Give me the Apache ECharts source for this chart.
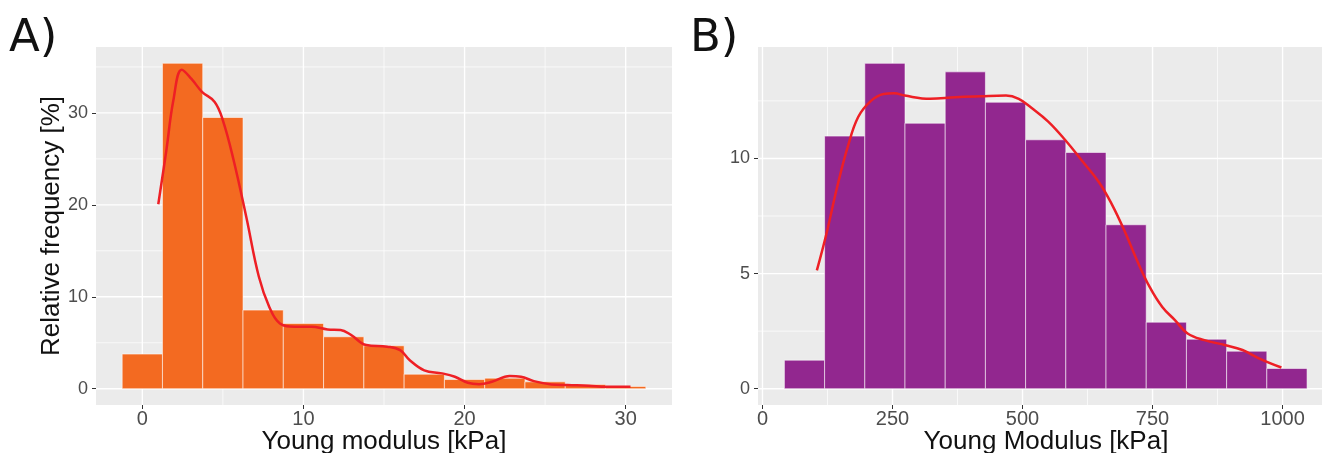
<!DOCTYPE html>
<html><head><meta charset="utf-8">
<script src="https://cdn.jsdelivr.net/npm/echarts@6/dist/echarts.min.js"></script>
<style>html,body{margin:0;padding:0;background:#fff}#c{width:1322px;height:453px}</style>
</head><body><div id="c"></div>
<script>
// ---- Panel A data ----
const binCentersA = [0, 2.5, 5, 7.5, 10, 12.5, 15, 17.5, 20, 22.5, 25, 27.5, 30];
const binWidthA = 2.5;
const freqA = [3.77, 35.4, 29.5, 8.55, 7.1, 5.65, 4.67, 1.58, 1.0, 1.15, 0.75, 0.45, 0.25];
const densityA = [
  [0.99,20.07],[1.49,25.9],[1.93,31.4],[2.45,34.7],[3.05,33.7],[3.7,32.3],[4.49,31.2],[5.0,29.2],
  [5.66,24.9],[6.45,18.7],[7.23,12.2],[7.88,8.9],[8.54,7.1],[9.45,6.74],[10.5,6.74],[11.5,6.45],
  [12.3,6.4],[12.97,5.83],[13.9,4.75],[15.2,4.57],[16.0,4.2],[16.6,3.1],[17.5,2.0],[18.6,1.67],
  [19.4,1.3],[20.2,0.65],[20.9,0.5],[21.7,0.76],[22.8,1.38],[23.5,1.3],[24.3,0.83],[25.4,0.47],
  [26.4,0.4],[27.7,0.33],[28.8,0.22],[30.3,0.22]
];
const xTicksA = [0, 10, 20, 30];
const xMinorA = [5, 15, 25];
const yTicksA = [0, 10, 20, 30];
const yMinorA = [5, 15, 25, 35];

// ---- Panel B data ----
const binCentersB = [80.8, 158.1, 235.4, 312.7, 390, 467.3, 544.6, 621.9, 699.2, 776.5, 853.8, 931.1, 1008.4];
const binWidthB = 77.3;
const freqB = [1.24, 10.97, 14.13, 11.53, 13.76, 12.44, 10.81, 10.26, 7.12, 2.89, 2.15, 1.63, 0.88];
const densityB = [
  [104.6,5.14],[123,6.73],[143.6,8.76],[163.9,10.5],[184,11.8],[208.6,12.5],[232.9,12.8],[253.3,12.83],
  [273.5,12.73],[322.3,12.59],[371,12.66],[419.6,12.7],[468.3,12.73],[492.7,12.59],[517,12.2],
  [549.4,11.6],[582,10.8],[614.4,9.9],[647,8.97],[671.3,8.03],[695.6,6.88],[720,5.58],[744.4,4.42],
  [768.7,3.55],[793,2.98],[817.3,2.4],[849.8,2.11],[890.4,1.89],[922.9,1.68],[955.4,1.31],[997.7,0.92]
];
const xTicksB = [0, 250, 500, 750, 1000];
const xMinorB = [125, 375, 625, 875];
const yTicksB = [0, 5, 10];
const yMinorB = [2.5, 7.5, 12.5];

const FONT = '"Liberation Sans", Arial, sans-serif';
const chart = echarts.init(document.getElementById('c'), null, {renderer: 'canvas'});

function gridLineSeries(idx, vals, dir, width) {
  return {
    type: 'custom', xAxisIndex: idx, yAxisIndex: idx, silent: true, z: 1,
    clip: true,
    data: vals.map(v => dir === 'x' ? [v, 0] : [0, v]),
    encode: {x: 0, y: 1},
    renderItem(params, api) {
      const cs = params.coordSys;
      if (dir === 'x') {
        const p = api.coord([api.value(0), 0]);
        return {type: 'line', shape: {x1: p[0], y1: cs.y, x2: p[0], y2: cs.y + cs.height},
          style: {stroke: '#ffffff', lineWidth: width}};
      }
      const p = api.coord([0, api.value(1)]);
      return {type: 'line', shape: {x1: cs.x, y1: p[1], x2: cs.x + cs.width, y2: p[1]},
        style: {stroke: '#ffffff', lineWidth: width}};
    }
  };
}

function barSeries(idx, centers, vals, w, color) {
  return {
    type: 'custom', xAxisIndex: idx, yAxisIndex: idx, silent: true, z: 2,
    data: centers.map((c, i) => [c, vals[i]]),
    encode: {x: 0, y: 1},
    renderItem(params, api) {
      const c = api.value(0), h = api.value(1);
      const p0 = api.coord([c - w / 2, h]);
      const p1 = api.coord([c + w / 2, 0]);
      return {type: 'rect', shape: {x: p0[0], y: p0[1], width: p1[0] - p0[0], height: p1[1] - p0[1]},
        style: {fill: color, stroke: 'rgba(255,255,255,0.55)', lineWidth: 1}};
    }
  };
}

function xAxisCfg(idx, min, max, ticks, name, padLeft) {
  return {
    gridIndex: idx, type: 'value', min, max,
    splitLine: {show: false},
    axisLine: {show: false, onZero: false},
    axisTick: {show: true, customValues: ticks, length: 4, lineStyle: {color: '#333333', width: 1}},
    axisLabel: {customValues: ticks, fontSize: 20, color: '#4d4d4d', margin: 4, fontFamily: FONT,
      formatter: v => String(v)},
    name, nameLocation: 'middle', nameGap: 24, nameMoveOverlap: false,
    nameTextStyle: {fontSize: 26, color: '#111', fontFamily: FONT, padding: [0, 0, 0, padLeft]}
  };
}
function yAxisCfg(idx, min, max, ticks, name) {
  return {
    gridIndex: idx, type: 'value', min, max,
    splitLine: {show: false},
    axisLine: {show: false, onZero: false},
    axisTick: {show: true, customValues: ticks, length: 4, lineStyle: {color: '#333333', width: 1}},
    axisLabel: {customValues: ticks, fontSize: 18, color: '#4d4d4d', margin: 8, fontFamily: FONT,
      formatter: v => String(v)},
    name, nameLocation: 'middle', nameGap: 31, nameMoveOverlap: false,
    nameTextStyle: {fontSize: 26, color: '#111', fontFamily: FONT}
  };
}

chart.setOption({
  animation: false,
  backgroundColor: '#ffffff',
  grid: [
    {left: 96, top: 47, width: 576, height: 358, show: true, backgroundColor: '#ebebeb', borderWidth: 0, outerBoundsMode: 'none', containLabel: false},
    {left: 758, top: 47, width: 564, height: 358, show: true, backgroundColor: '#ebebeb', borderWidth: 0, outerBoundsMode: 'none', containLabel: false}
  ],
  xAxis: [
    xAxisCfg(0, -2.875, 32.875, xTicksA, 'Young modulus [kPa]', 0),
    xAxisCfg(1, -8.6, 1075.8, xTicksB, 'Young Modulus [kPa]', 12)
  ],
  yAxis: [
    yAxisCfg(0, -1.77, 37.17, yTicksA, 'Relative frequency [%]'),
    yAxisCfg(1, -0.707, 14.84, yTicksB, '')
  ],
  graphic: [
    {type: 'text', left: 9, top: 17, style: {text: 'A)', font: '45px "DejaVu Sans"', fill: '#111'}},
    {type: 'text', left: 690, top: 17, style: {text: 'B)', font: '45px "DejaVu Sans"', fill: '#111'}}
  ],
  series: [
    gridLineSeries(0, xMinorA, 'x', 0.7),
    gridLineSeries(0, yMinorA, 'y', 0.7),
    gridLineSeries(0, xTicksA, 'x', 1.4),
    gridLineSeries(0, yTicksA, 'y', 1.4),
    gridLineSeries(1, xMinorB, 'x', 0.7),
    gridLineSeries(1, yMinorB, 'y', 0.7),
    gridLineSeries(1, xTicksB, 'x', 1.4),
    gridLineSeries(1, yTicksB, 'y', 1.4),
    barSeries(0, binCentersA, freqA, binWidthA, '#f36a21'),
    barSeries(1, binCentersB, freqB, binWidthB, '#92278f'),
    {type: 'line', xAxisIndex: 0, yAxisIndex: 0, data: densityA, smooth: 0.4, showSymbol: false, silent: true, z: 3,
      lineStyle: {color: '#ee1f25', width: 2.5}},
    {type: 'line', xAxisIndex: 1, yAxisIndex: 1, data: densityB, smooth: 0.4, showSymbol: false, silent: true, z: 3,
      lineStyle: {color: '#ee1f25', width: 2.5}}
  ]
});
</script>
</body></html>
